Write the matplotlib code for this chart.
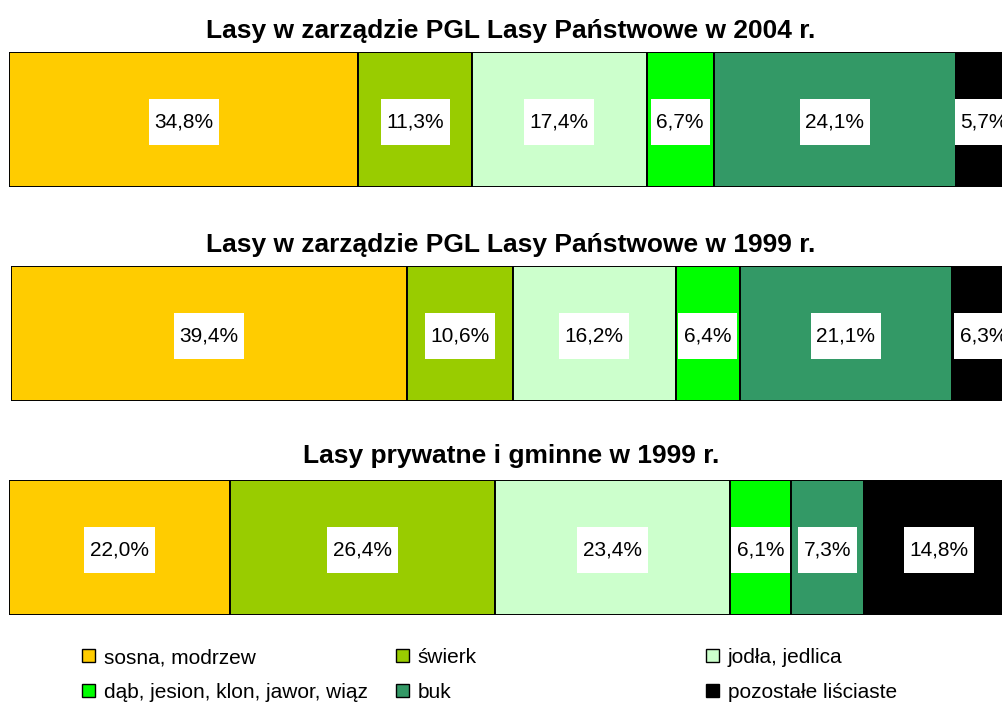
import matplotlib
matplotlib.use('Agg')
import matplotlib.pyplot as plt
from matplotlib.patches import Patch
from matplotlib.path import Path

plt.rcParams['font.family'] = ['Liberation Sans', 'DejaVu Sans']

# Dane
species = ['sosna, modrzew', 'świerk', 'jodła, jedlica',
           'dąb, jesion, klon, jawor, wiąz', 'buk', 'pozostałe liściaste']
colors = ['#FFCC00', '#99CC00', '#CCFFCC', '#00FF00', '#339966', '#000000']

titles = ['Lasy w zarządzie PGL Lasy Państwowe w 2004 r.',
          'Lasy w zarządzie PGL Lasy Państwowe w 1999 r.',
          'Lasy prywatne i gminne w 1999 r.']
shares_2004_pgl = [34.8, 11.3, 17.4, 6.7, 24.1, 5.7]
shares_1999_pgl = [39.4, 10.6, 16.2, 6.4, 21.1, 6.3]
shares_1999_priv = [22.0, 26.4, 23.4, 6.1, 7.3, 14.8]


def label_box(x0, y0, width, height, mutation_size):
    # białe pole pod etykietą, szersze w pionie niż w poziomie
    px = 0.27 * mutation_size
    py = 0.66 * mutation_size
    return Path([(x0 - px, y0 - py), (x0 + width + px, y0 - py),
                 (x0 + width + px, y0 + height + py), (x0 - px, y0 + height + py),
                 (x0 - px, y0 - py)], closed=True)


def fmt(v):
    return f'{v:.1f}'.replace('.', ',') + '%'


W, H = 1002, 704
fig = plt.figure(figsize=(W / 100, H / 100), dpi=100)

panels = [
    (shares_2004_pgl, titles[0], 9, 52, 38),
    (shares_1999_pgl, titles[1], 11, 266, 252),
    (shares_1999_priv, titles[2], 9, 480, 463),
]
bar_h = 135
for vals, title, left_px, top_px, title_base in panels:
    ax = fig.add_axes([left_px / W, 1 - (top_px + bar_h) / H, 1004 / W, bar_h / H])
    left = 0
    for v, c in zip(vals, colors):
        ax.barh(0, v, left=left, height=1, color=c, edgecolor='black', linewidth=1.4)
        ax.text(left + v / 2, -0.02, fmt(v), ha='center', va='center', fontsize=15,
                bbox=dict(boxstyle=label_box, fc='white', ec='none'))
        left += v
    ax.set_xlim(0, 100)
    ax.set_ylim(-0.5, 0.5)
    ax.axis('off')
    fig.text(511 / W, 1 - title_base / H, title, ha='center', va='baseline',
             fontsize=19, fontweight='bold')

# Legenda w trzech kolumnach
handles = [Patch(facecolor=c, edgecolor='black', linewidth=1) for c in colors]
col_x = [82, 396, 706]
for i, x in enumerate(col_x):
    fig.legend([handles[i], handles[i + 3]], [species[i], species[i + 3]],
               loc='upper left', bbox_to_anchor=(x / W, 1 - 648 / H),
               frameon=False, fontsize=15, borderpad=0, borderaxespad=0,
               handlelength=0.6, handleheight=0.6, handletextpad=0.45,
               labelspacing=0.75)

fig.savefig('out.png', dpi=100)
